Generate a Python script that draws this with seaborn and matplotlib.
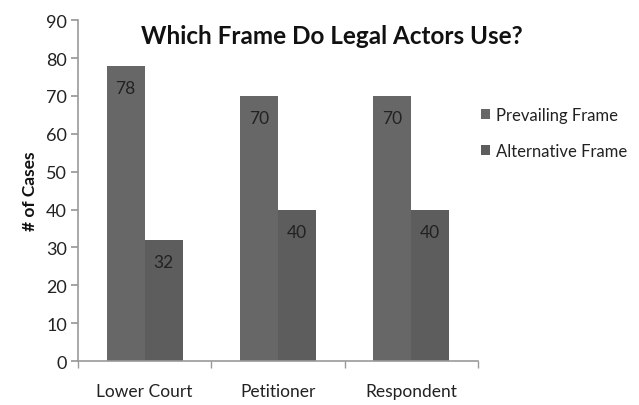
import matplotlib
matplotlib.use("Agg")
import matplotlib.pyplot as plt
import seaborn as sns
import pandas as pd
from matplotlib.patches import Patch

categories = ["Lower Court", "Petitioner", "Respondent"]
series = ["Prevailing Frame", "Alternative Frame"]
prevailing = [78, 70, 70]
alternative = [32, 40, 40]
yticks = [0, 10, 20, 30, 40, 50, 60, 70, 80, 90]

df = pd.DataFrame({
    "Category": categories * 2,
    "Series": [series[0]] * 3 + [series[1]] * 3,
    "Value": prevailing + alternative,
})

sns.set_theme(style="white")
plt.rcParams["font.family"] = ["Lato", "DejaVu Sans"]

colors = ["#676767", "#5d5d5d"]
fig = plt.figure(figsize=(6.39, 4.06), dpi=100)
ax = fig.add_axes([0.122, 0.108, 0.626, 0.840])
sns.barplot(data=df, x="Category", y="Value", hue="Series", palette=colors,
            width=0.57, saturation=1, ax=ax, legend=False, edgecolor="none")

for cont in ax.containers:
    labels = [f"{int(v)}" for v in cont.datavalues]
    ax.bar_label(cont, labels=labels, label_type="edge", padding=-22,
                 fontsize=12.5, color="#222222")

ax.set_ylim(0, 90)
ax.set_xlim(-0.5, 2.5)
ax.set_yticks(yticks)
ax.set_xlabel("")
ax.set_ylabel("# of Cases", fontsize=12.5, fontweight="bold", labelpad=6, color="#111111")
ax.tick_params(axis="y", labelsize=13, length=5, color="#999999", direction="out", left=True, pad=3,
               labelcolor="#222222")
ax.tick_params(axis="x", which="major", labelsize=12.5, length=0, pad=16, labelcolor="#222222")
ax.set_xticks([-0.5, 0.5, 1.5, 2.5], minor=True)
ax.tick_params(axis="x", which="minor", length=5, color="#999999", bottom=True, direction="out")
for s in ["top", "right"]:
    ax.spines[s].set_visible(False)
for s in ["left", "bottom"]:
    ax.spines[s].set_color("#999999")
    ax.spines[s].set_linewidth(1.2)

fig.text(0.519, 0.909, "Which Frame Do Legal Actors Use?", ha="center", va="center",
         fontsize=17.5, fontweight="bold", color="#111111")

handles = [Patch(facecolor=c, edgecolor="none") for c in colors]
leg = fig.legend(handles, series, loc="upper left", bbox_to_anchor=(0.742, 0.75),
                 frameon=False, fontsize=12, handlelength=0.55, handleheight=0.55,
                 handletextpad=0.35, labelspacing=1.2, borderaxespad=0)
for t in leg.get_texts():
    t.set_color("#222222")

fig.savefig("out.png", dpi=100)
